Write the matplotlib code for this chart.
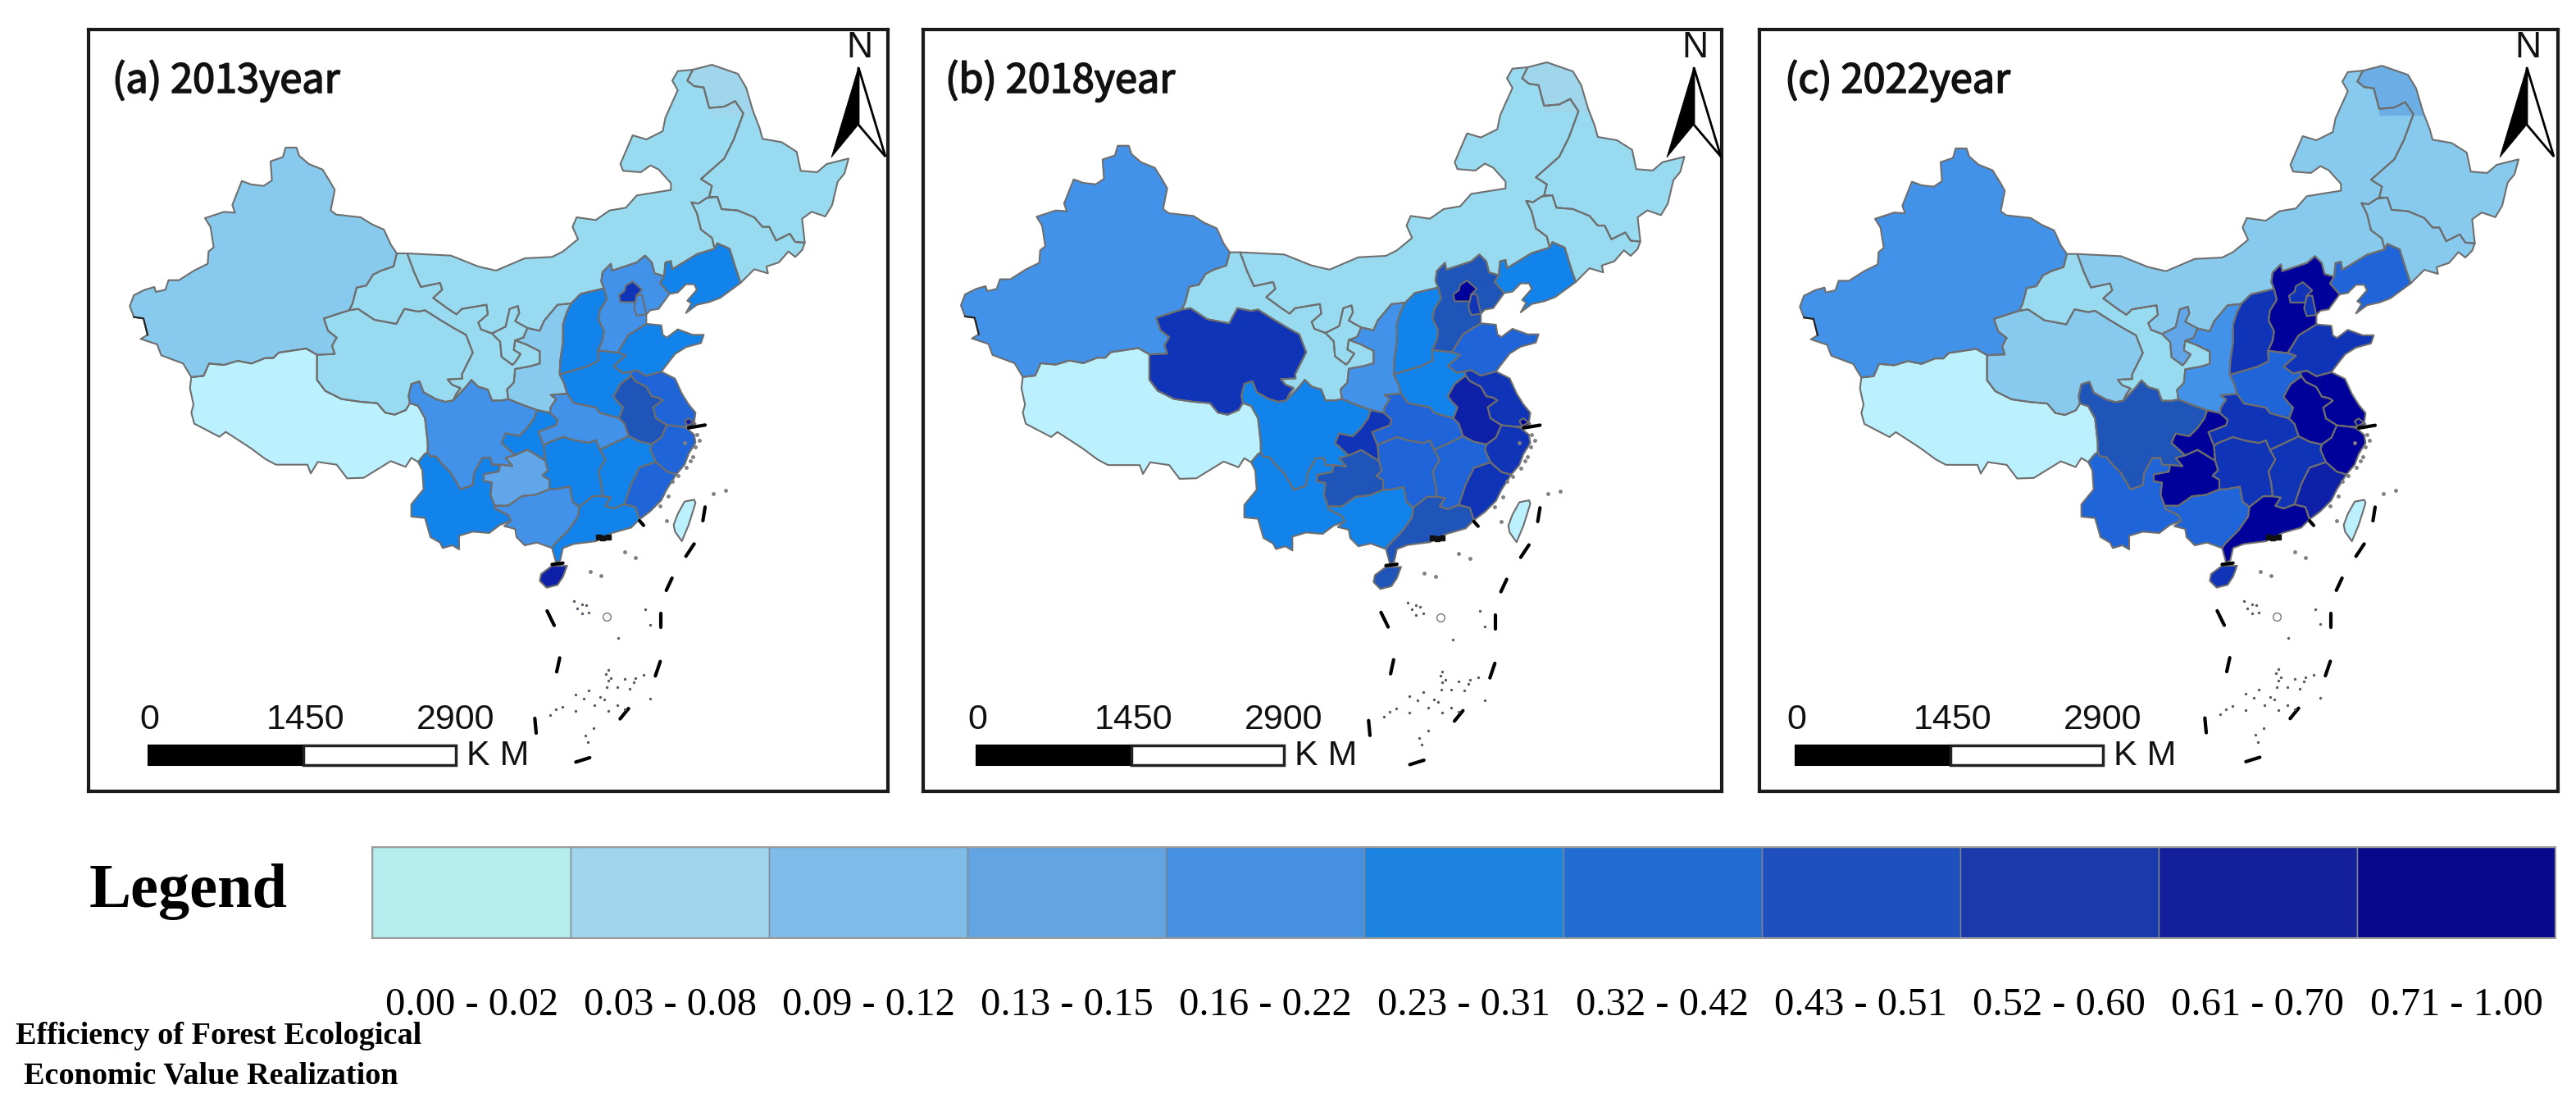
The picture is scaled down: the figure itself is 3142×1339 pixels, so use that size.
# -*- coding: utf-8 -*-
import matplotlib
matplotlib.use('Agg')
import matplotlib.pyplot as plt
import matplotlib.patheffects as pe
from matplotlib.patches import Polygon

W, H = 3142, 1339

#%% class labels and colours
class_labels = ['0.00 - 0.02', '0.03 - 0.08', '0.09 - 0.12', '0.13 - 0.15', '0.16 - 0.22', '0.23 - 0.31',
                '0.32 - 0.42', '0.43 - 0.51', '0.52 - 0.60', '0.61 - 0.70', '0.71 - 1.00']
legend_colors = ['#B5EDEF', '#9FD6EE', '#7FBCEA', '#63A5E3', '#4690E2', '#1D83E0',
                 '#216BD3', '#2050BE', '#1A3AAB', '#141F9B', '#08088A']
map_colors = ['#BBF0FF', '#98DBF0', '#87CAEE', '#60A6E9', '#4192E8', '#1283EA',
              '#1F64D8', '#1F55B8', '#1034B8', '#0F20A8', '#00009A']

#%% class index of every province per year
provinces = ['Xinjiang', 'Tibet', 'Qinghai', 'Gansu', 'Ningxia', 'InnerMongolia', 'Heilongjiang', 'Jilin',
             'Liaoning', 'Hebei', 'Beijing', 'Tianjin', 'Shanxi', 'Shandong', 'Henan', 'Shaanxi', 'Sichuan',
             'Chongqing', 'Guizhou', 'Yunnan', 'Guangxi', 'Guangdong', 'Hunan', 'Hubei', 'Jiangxi', 'Anhui',
             'Jiangsu', 'Shanghai', 'Zhejiang', 'Fujian', 'Hainan', 'Taiwan']
class_2013 = [2, 0, 1, 1, 1, 1, 1, 1, 5, 4, 8, 4, 5, 5, 5, 2, 4, 5, 3, 5, 4, 5, 5, 4, 5, 7, 6, 9, 6, 6, 9, 0]
class_2018 = [4, 0, 8, 1, 1, 1, 1, 1, 5, 7, 10, 8, 5, 6, 5, 4, 5, 8, 7, 5, 5, 7, 6, 6, 6, 9, 8, 10, 8, 8, 7, 0]
class_2022 = [4, 0, 2, 1, 3, 2, 2, 2, 6, 10, 8, 8, 8, 8, 6, 4, 7, 10, 10, 6, 6, 10, 8, 8, 8, 10, 10, 10, 10, 9, 8, 0]
north_patch_colors = ['#9FD6EC', '#9FD6EC', '#6BAEE6']

#%% outlines, unit = 1/3 pixel, origin at pixel (460, 340)
xinjiang = [(-905,100),(-890,60),(-850,40),(-815,30),(-810,48),(-775,40),(-763,5),(-725,5),(-670,-30),(-620,-55),
            (-617,-100),(-598,-115),(-610,-190),(-630,-222),(-560,-245),(-520,-242),(-530,-270),(-495,-358),
            (-460,-345),(-415,-340),(-385,-360),(-390,-430),(-345,-445),(-335,-480),(-295,-480),(-285,-450),
            (-250,-420),(-200,-400),(-175,-360),(-155,-325),(-170,-250),(-150,-235),(-60,-225),(-20,-200),
            (25,-180),(50,-125),(72,-93),(60,-45),(15,-30),(-15,-15),(-40,25),(-75,32),(-90,90),(-102,115),
            (-195,145),(-180,190),(-148,215),(-165,245),(-155,275),(-220,278),(-260,255),(-360,270),(-380,290),
            (-410,290),(-460,310),(-510,300),(-560,315),(-615,310),(-635,355),(-680,360),(-710,310),(-790,280),
            (-805,240),(-865,220),(-840,205),(-855,145),(-890,140)]
tibet = [(-680,360),(-635,355),(-615,310),(-560,315),(-510,300),(-460,310),(-410,290),(-380,290),(-360,270),
         (-260,255),(-220,278),(-220,310),(-220,370),(-190,410),(-130,440),(-60,450),(0,455),(30,490),(65,497),
         (105,480),(120,455),(150,465),(175,510),(185,600),(185,635),(175,640),(150,670),(125,655),(104,688),
         (50,667),(-49,728),(-110,730),(-148,680),(-217,670),(-243,712),(-255,680),(-370,680),(-408,660),
         (-462,620),(-500,595),(-554,560),(-577,578),(-669,530),(-680,490),(-672,460),(-685,400)]
qinghai = [(-102,115),(-70,110),(-10,150),(70,165),(100,110),(150,120),(175,115),(230,150),(280,180),(325,205),
           (350,270),(310,350),(312,365),(258,368),(275,388),(305,400),(290,420),(278,445),(250,450),(215,440),
           (170,415),(155,375),(125,385),(115,430),(120,455),(105,480),(65,497),(30,490),(0,455),(-60,450),
           (-130,440),(-190,410),(-220,370),(-220,310),(-220,278),(-155,275),(-165,245),(-148,215),(-180,190),
           (-195,145)]
gansu = [(72,-93),(110,-93),(135,-25),(160,30),(230,15),(238,40),(205,70),(260,110),(290,130),(310,110),(400,95),
         (405,130),(370,160),(380,185),(420,200),(450,230),(455,285),(495,315),(505,305),(525,275),(500,260),
         (505,225),(545,240),(595,265),(595,310),(560,320),(505,330),(500,380),(475,405),(480,440),(455,445),
         (420,445),(405,405),(370,395),(345,370),(325,395),(278,445),(290,420),(305,400),(275,388),(258,368),
         (312,365),(310,350),(350,270),(325,205),(280,180),(230,150),(175,115),(150,120),(100,110),(70,165),
         (-10,150),(-70,110),(-102,115),(-90,90),(-75,32),(-40,25),(-15,-15),(15,-30),(60,-45)]
ningxia = [(420,200),(470,175),(485,110),(515,100),(520,125),(505,155),(550,180),(535,215),(505,225),(500,260),
           (525,275),(505,305),(495,315),(455,285),(450,230)]
inner_mongolia = [(110,-93),(270,-85),(320,-65),(370,-45),(435,-30),(540,-75),(640,-80),(680,-100),(735,-145),
                  (715,-190),(730,-225),(800,-215),(850,-250),(910,-260),(950,-305),(1075,-325),(1075,-350),
                  (1030,-400),(1000,-415),(965,-390),(900,-395),(890,-420),(935,-525),(985,-510),(1045,-540),
                  (1055,-590),(1100,-690),(1080,-725),(1100,-760),(1155,-765),(1135,-725),(1160,-705),(1195,-700),
                  (1215,-625),(1270,-630),(1310,-650),(1340,-605),(1305,-510),(1270,-440),(1185,-365),(1225,-340),
                  (1215,-300),(1205,-295),(1175,-275),(1150,-280),(1170,-240),(1185,-180),(1225,-150),(1235,-110),
                  (1170,-90),(1080,-35),(1075,-65),(1055,-60),(1050,-10),(1015,-20),(1005,-60),(980,-85),(950,-60),
                  (860,-30),(855,-55),(825,-25),(820,10),(830,35),(745,55),(710,90),(660,95),(610,155),(595,190),
                  (550,180),(505,155),(520,125),(515,100),(485,110),(470,175),(420,200),(380,185),(370,160),(405,130),
                  (400,95),(310,110),(290,130),(260,110),(205,70),(238,40),(230,15),(160,30),(135,-25)]
heilongjiang = [(1155,-765),(1225,-783),(1320,-750),(1350,-700),(1375,-615),(1400,-550),(1410,-512),(1480,-500),
                (1535,-465),(1550,-395),(1610,-390),(1645,-420),(1725,-440),(1710,-385),(1685,-355),(1665,-270),
                (1640,-228),(1590,-245),(1555,-220),(1565,-132),(1530,-135),(1510,-165),(1460,-140),(1435,-190),
                (1410,-190),(1380,-225),(1320,-250),(1260,-255),(1245,-300),(1215,-300),(1225,-340),(1185,-365),
                (1270,-440),(1305,-510),(1340,-605),(1310,-650),(1270,-630),(1215,-625),(1195,-700),(1160,-705),
                (1135,-725)]
heilongjiang_north = [(1155,-765),(1225,-783),(1320,-750),(1350,-700),(1375,-615),(1379,-600),(1215,-600),(1215,-625),
                      (1195,-700),(1160,-705),(1135,-725)]
jilin = [(1150,-280),(1175,-275),(1205,-295),(1245,-300),(1260,-255),(1320,-250),(1380,-225),(1410,-190),(1435,-190),
         (1460,-140),(1510,-165),(1530,-135),(1565,-132),(1555,-105),(1530,-80),(1505,-100),(1470,-60),(1425,-45),
         (1430,-20),(1380,-35),(1330,15),(1310,-45),(1290,-110),(1245,-130),(1235,-110),(1225,-150),(1185,-180),
         (1170,-240)]
liaoning = [(1035,15),(1050,-10),(1055,-60),(1075,-65),(1080,-35),(1170,-90),(1235,-110),(1245,-130),(1290,-110),
            (1310,-45),(1330,15),(1255,70),(1215,85),(1170,95),(1130,125),(1150,90),(1135,80),(1170,40),(1160,20),
            (1130,20),(1100,50),(1070,55)]
hebei = [(830,35),(820,10),(825,-25),(855,-55),(860,-30),(950,-60),(980,-85),(1005,-60),(1015,-20),(1050,-10),
         (1035,15),(1070,55),(1030,110),(1000,115),(985,130),(985,165),(920,205),(880,270),(808,262),(825,225),
         (830,190),(810,150),(815,115),(840,75)]
beijing = [(885,60),(905,45),(910,25),(935,10),(970,40),(950,60),(945,85),(890,85)]
tianjin = [(945,85),(950,60),(970,60),(975,85),(985,130),(950,135),(940,105)]
shanxi = [(710,90),(745,55),(830,35),(840,75),(815,115),(810,150),(830,190),(825,225),(808,262),(810,300),(770,320),
          (668,350),(670,300),(680,230),(680,165),(695,120)]
shandong = [(880,270),(920,205),(985,165),(1040,170),(1045,205),(1060,215),(1100,185),(1155,205),(1195,205),(1185,235),
            (1130,250),(1090,275),(1055,320),(1040,340),(985,355),(950,335),(925,340),(900,345),(865,320),(910,280)]
henan = [(668,350),(770,320),(810,300),(808,262),(880,270),(910,280),(865,320),(900,345),(925,340),(930,355),(890,385),
         (865,430),(880,450),(900,470),(885,510),(815,490),(800,470),(720,455),(695,420),(685,385)]
shaanxi = [(550,180),(595,190),(610,155),(660,95),(710,90),(695,120),(680,165),(680,230),(670,300),(668,350),(685,385),
           (695,420),(635,425),(655,440),(635,470),(632,490),(585,480),(530,460),(480,440),(475,405),(500,380),(505,330),
           (560,320),(595,310),(595,265),(545,240),(505,225),(535,215)]
sichuan = [(115,430),(125,385),(155,375),(170,415),(215,440),(250,450),(278,445),(325,395),(345,370),(370,395),(405,405),
           (420,445),(455,445),(480,440),(530,460),(585,480),(575,510),(550,545),(520,575),(470,565),(455,600),(505,645),
           (470,655),(495,685),(450,680),(420,680),(415,655),(385,655),(355,710),(350,755),(305,770),(270,710),(240,680),
           (215,650),(195,650),(185,635),(185,600),(175,510),(150,465),(120,455)]
chongqing = [(585,480),(632,490),(660,515),(655,535),(590,560),(610,610),(615,665),(550,625),(505,645),(455,600),(470,565),
             (520,575),(550,545),(575,510)]
guizhou = [(390,715),(445,705),(450,680),(495,685),(470,655),(505,645),(550,625),(615,665),(625,700),(605,720),(630,735),
           (630,770),(580,790),(530,795),(480,830),(430,830),(415,790),(420,745),(390,740)]
yunnan = [(150,670),(175,640),(185,635),(195,650),(215,650),(240,680),(270,710),(305,770),(350,755),(355,710),(385,655),
          (415,655),(420,680),(450,680),(445,705),(390,715),(390,740),(420,745),(415,790),(430,830),(430,840),(480,865),
          (490,885),(450,900),(410,930),(350,925),(300,940),(300,990),(275,975),(240,985),(230,965),(195,945),(175,875),
          (125,870),(125,825),(170,770),(165,700)]
guangxi = [(430,840),(430,830),(480,830),(530,795),(580,790),(630,770),(650,770),(705,760),(715,815),(740,835),(735,870),
           (700,920),(650,970),(640,985),(585,965),(540,975),(510,945),(505,915),(465,905),(490,885),(480,865)]
guangdong = [(745,830),(790,795),(825,795),(855,800),(835,830),(865,840),(905,825),(945,835),(960,880),(930,910),(860,930),
             (800,960),(720,970),(680,985),(670,1030),(655,1040),(640,985),(650,970),(700,920),(735,870),(740,835)]
hunan = [(625,600),(680,578),(720,590),(775,600),(800,590),(815,625),(835,660),(810,705),(820,750),(825,795),(790,795),
         (745,830),(740,835),(715,815),(705,760),(650,770),(630,770),(630,735),(605,720),(625,700),(615,665),(610,610)]
hubei = [(632,490),(635,470),(655,440),(635,425),(695,420),(720,455),(800,470),(815,490),(885,510),(905,530),(920,575),
         (890,590),(815,625),(800,590),(775,600),(720,590),(680,578),(625,600),(610,610),(590,560),(655,535),(660,515)]
jiangxi = [(815,625),(890,590),(920,575),(960,595),(1005,605),(1000,625),(1020,670),(960,690),(930,750),(905,825),(865,840),
           (835,830),(855,800),(825,795),(820,750),(810,705),(835,660)]
anhui = [(930,355),(945,375),(985,395),(1005,430),(1030,435),(1045,445),(1010,470),(1020,510),(1060,535),(1040,580),(1005,605),
         (960,595),(920,575),(905,530),(885,510),(900,470),(880,450),(865,430),(890,385)]
jiangsu = [(925,340),(950,335),(985,355),(1040,340),(1090,365),(1115,420),(1140,460),(1165,490),(1160,525),(1130,540),
           (1105,540),(1060,535),(1020,510),(1010,470),(1045,445),(1030,435),(1005,430),(985,395),(945,375),(930,355)]
shanghai = [(1125,520),(1140,510),(1165,530),(1140,545)]
zhejiang = [(1060,535),(1105,540),(1130,545),(1160,570),(1165,600),(1140,640),(1125,680),(1095,715),(1060,705),(1020,670),
            (1000,625),(1005,605),(1040,580)]
fujian = [(1020,670),(1060,705),(1095,715),(1060,770),(1040,810),(1000,850),(960,880),(945,835),(905,825),(930,750),(960,690)]
hainan = [(600,1080),(640,1050),(695,1050),(680,1090),(660,1120),(620,1130),(595,1105)]
taiwan = [(1125,815),(1160,808),(1165,820),(1140,900),(1115,960),(1090,925),(1085,900),(1100,860)]

outlines = [xinjiang, tibet, qinghai, gansu, ningxia, inner_mongolia, heilongjiang, jilin, liaoning, hebei, beijing,
            tianjin, shanxi, shandong, henan, shaanxi, sichuan, chongqing, guizhou, yunnan, guangxi, guangdong, hunan,
            hubei, jiangxi, anhui, jiangsu, shanghai, zhejiang, fujian, hainan, taiwan]

# 九段线 etc, black strokes
sea_dashes = [[(1160,970),(1130,1015)], [(1079,1095),(1058,1140)], [(622,1215),(648,1268)], [(1039,1225),(1039,1275)],
              [(668,1387),(657,1438)], [(1036,1400),(1018,1453)], [(920,1572),(889,1610)], [(577,1608),(582,1662)],
              [(778,1752),(727,1768)], [(1200,835),(1192,885)], [(1140,545),(1200,535)], [(640,1045),(680,1040)],
              [(960,885),(975,902)]]
west_border = [(-890,140),(-855,145),(-840,205)]
black_specks = [(810,945),(825,948),(845,945)]
coast_specks = [(1170,570),(1180,590),(1165,615),(1155,650),(1130,690),(1100,720),(1080,740),(1065,795),(1035,830),
                (905,1000),(945,1020),(1230,785),(1275,775),(1060,885),(780,1072),(820,1085),(1125,600),(1145,665)]
reef_specks = [(720,1180),(750,1190),(733,1205),(765,1195),(775,1220),(750,1225),(1000,1535),(845,1430),(838,1445),(855,1460),
               (845,1470),(840,1495),(905,1465),(945,1460),(975,1450),(940,1475),(878,1495),(925,1500),(725,1520),(775,1505),
               (755,1535),(815,1530),(830,1540),(678,1565),(655,1575),(632,1595),(725,1580),(795,1560),(878,1560),(845,1580),
               (762,1670),(770,1695),(793,1645),(905,1575),(980,1210),(1000,1265),(882,1315)]
reef_ring = [(839,1235)]

#%% layout of the three panels: frame in pixels, title, furniture offset, map placement
frames = [(108, 1083), (1126, 2100), (2146, 3120)]
frame_top, frame_bottom = 36, 965
titles = ['(a) 2013year', '(b) 2018year', '(c) 2022year']
title_x = [137, 1153, 2177]
arrow_shift = [0, 1019, 2035]
bar_shift = [0, 1010, 2009]
map_place = [(355, 178, 1.0, 1.0), (1370, 175.7, 1.0066, 1.0072), (2392, 179, 1.0, 0.998)]
year_classes = [class_2013, class_2018, class_2022]

plt.rcParams['font.family'] = ['Liberation Sans', 'DejaVu Sans']
fig = plt.figure(figsize=(W/100, H/100), dpi=100, facecolor='white')

for k in range(3):
    left, right = frames[k]
    x0, y0, sx, sy = map_place[k]
    ax = fig.add_axes([left/W, 1-frame_bottom/H, (right-left)/W, (frame_bottom-frame_top)/H])
    # pixel -> outline unit
    gx = lambda px: (355 + (px-x0)/sx - 460)*3
    gy = lambda py: (178 + (py-y0)/sy - 340)*3
    ax.set_xlim(gx(left), gx(right))
    ax.set_ylim(gy(frame_bottom), gy(frame_top))
    ax.set_xticks([])
    ax.set_yticks([])
    for s in ax.spines.values():
        s.set_linewidth(3)
        s.set_color('#1a1a1a')
    for pts, c in zip(outlines, year_classes[k]):
        ax.add_patch(Polygon(pts, closed=True, facecolor=map_colors[c], edgecolor='none', zorder=2))
    ax.add_patch(Polygon(heilongjiang_north, closed=True, facecolor=north_patch_colors[k], edgecolor='none', zorder=3))
    for pts in outlines:
        ax.add_patch(Polygon(pts, closed=True, facecolor='none', edgecolor='#6e6e6e', linewidth=1.5, joinstyle='round', zorder=4))
    for seg in sea_dashes:
        ax.plot([p[0] for p in seg], [p[1] for p in seg], color='black', lw=3, solid_capstyle='round', zorder=5)
    ax.plot([p[0] for p in west_border], [p[1] for p in west_border], color='#222222', lw=1.5, zorder=5)
    ax.plot([p[0] for p in black_specks], [p[1] for p in black_specks], ls='none', marker='s', ms=4.5, color='#111111', zorder=5)
    ax.plot([p[0] for p in coast_specks], [p[1] for p in coast_specks], ls='none', marker='o', ms=3.5, color='#808080', zorder=5, mew=0)
    ax.plot([p[0] for p in reef_specks], [p[1] for p in reef_specks], ls='none', marker='o', ms=2.4, color='#555566', zorder=5, mew=0)
    ax.plot([p[0] for p in reef_ring], [p[1] for p in reef_ring], ls='none', marker='o', ms=7, mfc='none', mec='#777777', mew=1, zorder=5)

#%% overlay in figure pixels for title, scale bar and north arrow
top = fig.add_axes([0, 0, 1, 1], facecolor='none')
top.set_xlim(0, W)
top.set_ylim(H, 0)
top.axis('off')
for k in range(3):
    t = top.text(title_x[k], 113, titles[k], fontsize=35, family=['Noto Sans CJK SC', 'DejaVu Sans'],
                 ha='left', va='baseline', color='#111111')
    t.set_path_effects([pe.withStroke(linewidth=1.2, foreground='#111111')])
    da = arrow_shift[k]
    top.add_patch(Polygon([(1047+da,82),(1080+da,191),(1047+da,152)], closed=True, facecolor='white', edgecolor='black', linewidth=2, joinstyle='miter'))
    top.add_patch(Polygon([(1047+da,82),(1014+da,192),(1047+da,152)], closed=True, facecolor='black', edgecolor='black', linewidth=0.5))
    top.text(1048+da, 70, 'N', fontsize=32, ha='center', va='baseline', color='#111111')
    db = bar_shift[k]
    top.add_patch(plt.Rectangle((181+db, 909), 189, 24, facecolor='black', edgecolor='black', linewidth=1.5))
    top.add_patch(plt.Rectangle((370+db, 909), 186, 24, facecolor='white', edgecolor='#222222', linewidth=2.5))
    for lab, x in zip(['0', '1450', '2900'], [182, 373, 556]):
        top.text(x+db, 889, lab, fontsize=31, ha='center', va='baseline', color='#111111')
    top.text(569+db, 933, 'K M', fontsize=31, ha='left', va='baseline', color='#111111')

#%% legend strip
leg = fig.add_axes([454/W, 1-1144/H, (3117-454)/W, (1144-1033)/H])
leg.bar(range(11), [1]*11, width=1, align='edge', color=legend_colors, edgecolor='#808890', linewidth=1)
leg.set_xlim(0, 11)
leg.set_ylim(0, 1)
leg.set_yticks([])
leg.set_xticks([i+0.5 for i in range(11)], class_labels, family='Liberation Serif', fontsize=35)
leg.tick_params(axis='x', length=0, pad=43)
for s in leg.spines.values():
    s.set_color('#9a9a9a')
    s.set_linewidth(1.5)

top.text(230, 1106, 'Legend', family='Liberation Serif', fontweight='bold', fontsize=55, ha='center', va='baseline', color='black')
top.text(267, 1273, 'Efficiency of Forest Ecological', family='Liberation Serif', fontweight='bold', fontsize=27.5, ha='center', va='baseline', color='black')
top.text(257, 1322, 'Economic Value Realization', family='Liberation Serif', fontweight='bold', fontsize=27.5, ha='center', va='baseline', color='black')

fig.savefig('out.png', dpi=100, facecolor='white')
